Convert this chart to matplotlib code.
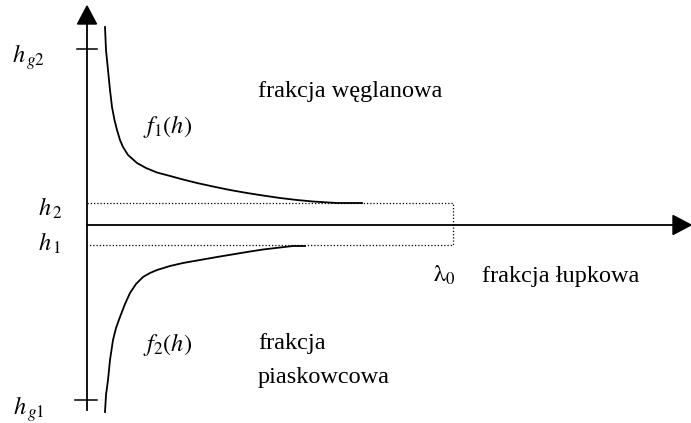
import matplotlib.pyplot as plt

plt.rcParams['font.family'] = ['Liberation Serif', 'DejaVu Serif']
plt.rcParams['mathtext.fontset'] = 'stix'

# curve points (x from vertical axis, h from horizontal axis)
f1_x = [18, 19, 21, 23, 25, 27.5, 30, 33, 36, 41, 50, 59, 70, 85, 96, 110, 126,
        143, 160, 176, 193, 210, 226, 250, 275]
f1_h = [198, 175, 155, 135, 118, 105, 95, 85, 78, 70, 62, 57, 52.5, 48.5, 45.5, 42, 38.5,
        35, 32, 29.5, 27, 25, 23.5, 22, 22]
f2_x = [18, 19, 21, 23, 26, 29, 33, 38, 43, 49, 56, 63, 70, 83, 96, 113, 130,
        145, 160, 176, 193, 206, 218]
f2_h = [-187, -170, -155, -135, -115, -103, -92, -79, -68, -59, -52, -48, -45, -41,
        -38, -35, -32, -29.5, -27, -24.5, -22.5, -21, -21]

# levels
h_g2 = 176
h_2 = 22
h_1 = -20
h_g1 = -175
lambda_0 = 366

fig = plt.figure(figsize=(6.91, 4.23), dpi=100)
ax = fig.add_axes([0, 0, 1, 1])
ax.set_xlim(-87, 604)
ax.set_ylim(-198, 225)
ax.axis('off')

# axes with arrowheads
top, right, bottom = 219, 604, -185
head_len, head_w = 18, 9.5
ax.plot([0, 0], [bottom, top - head_len], color='black', lw=1.3)
ax.fill([-head_w, head_w, 0], [top - head_len, top - head_len, top], color='black')
ax.plot([0, right - head_len], [0, 0], color='black', lw=1.3)
ax.fill([right - head_len, right - head_len, right], [head_w, -head_w, 0], color='black')

# ticks on vertical axis
ax.plot([-10, 10], [h_g2, h_g2], color='black', lw=1.1)
ax.plot([-12, 10], [h_g1, h_g1], color='black', lw=1.1)

# dotted box
dots = (0, (1, 1.6))
ax.plot([0, lambda_0, lambda_0, 0], [h_2, h_2, h_1, h_1], color='black', lw=0.9, linestyle=dots)

# curves
ax.plot(f1_x, f1_h, color='black', lw=1.3, solid_joinstyle='round')
ax.plot(f2_x, f2_h, color='black', lw=1.3, solid_joinstyle='round')

fs = 17.5
ax.text(-75, 162, r'$h_{\,g2}$', fontsize=fs, va='baseline')
ax.text(-49, 9, r'$h_{\,2}$', fontsize=fs, va='baseline')
ax.text(-49, -26, r'$h_{\,1}$', fontsize=fs, va='baseline')
ax.text(-74, -190, r'$h_{\,g1}$', fontsize=fs, va='baseline')
ax.text(56, 92, r'$f_1(h)$', fontsize=fs, va='baseline')
ax.text(56, -126, r'$f_2(h)$', fontsize=fs, va='baseline')
ax.text(171, 128, 'frakcja węglanowa', fontsize=fs, va='baseline')
ax.text(346, -57, r'$\mathrm{\lambda}_0$', fontsize=fs, va='baseline')
ax.text(395, -57, 'frakcja łupkowa', fontsize=fs, va='baseline')
ax.text(171, -124, 'frakcja', fontsize=fs, va='baseline')
ax.text(171, -158, 'piaskowcowa', fontsize=fs, va='baseline')

fig.savefig('out.png', dpi=100)
